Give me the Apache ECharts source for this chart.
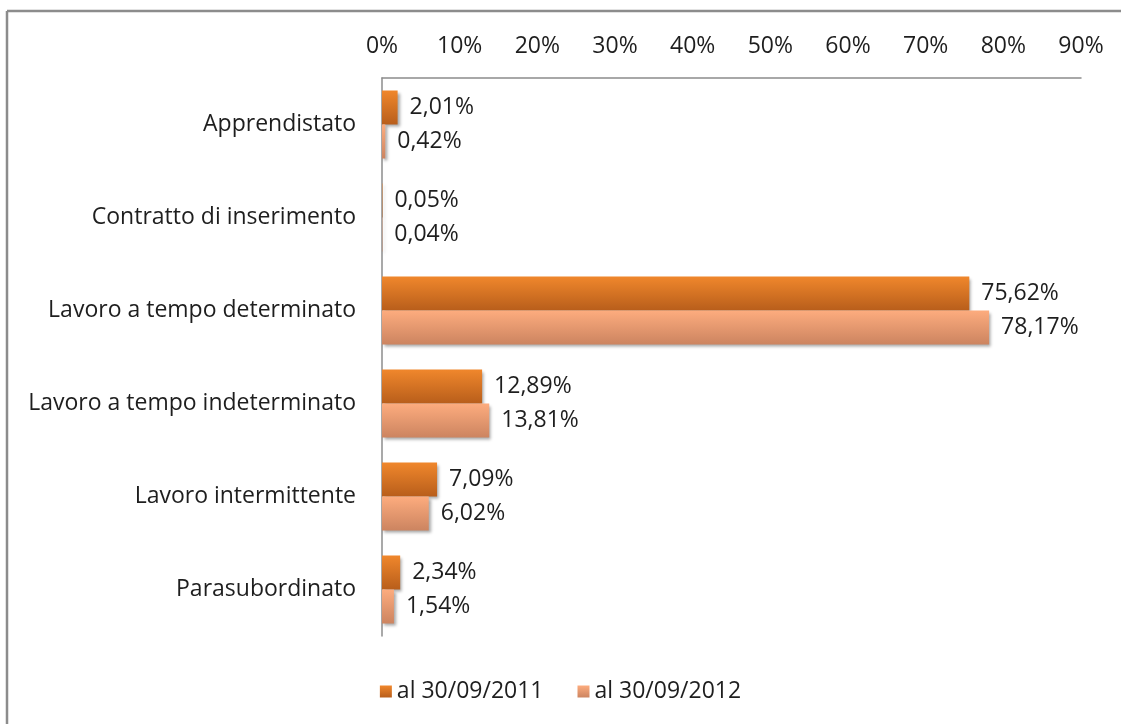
<!DOCTYPE html>
<html>
<head>
<meta charset="utf-8">
<script src="https://cdn.jsdelivr.net/npm/echarts@6/dist/echarts.min.js"></script>
<style>
html,body{margin:0;padding:0;background:#fff;}
#chart{width:1121px;height:724px;}
</style>
</head>
<body>
<div id="chart"></div>
<script>
const categories = ['Apprendistato','Contratto di inserimento','Lavoro a tempo determinato','Lavoro a tempo indeterminato','Lavoro intermittente','Parasubordinato'];
const seriesNames = ['al 30/09/2011','al 30/09/2012'];
const values2011 = [2.01, 0.05, 75.62, 12.89, 7.09, 2.34];
const values2012 = [0.42, 0.04, 78.17, 13.81, 6.02, 1.54];
const xTicks = [0,10,20,30,40,50,60,70,80,90];

const FONT = 'Open Sans';
const FS = 23;
const TXT = '#1e1e1e';
const fmt = v => v.toFixed(2).replace('.', ',') + '%';

function grad(top, bottom){
  return new echarts.graphic.LinearGradient(0,0,0,1,[{offset:0,color:top},{offset:1,color:bottom}]);
}

const chart = echarts.init(document.getElementById('chart'), null, {renderer:'canvas'});
chart.setOption({
  backgroundColor:'#fff',
  animation:false,
  textStyle:{fontFamily:FONT},
  graphic:[
    {type:'line', shape:{x1:7,y1:11,x2:7,y2:724}, style:{stroke:'#8c8c8c',lineWidth:2.5}},
    {type:'line', shape:{x1:7,y1:11,x2:1121,y2:11}, style:{stroke:'#8c8c8c',lineWidth:2.5}}
  ],
  grid:{left:382,right:40,top:78,bottom:88,containLabel:false},
  legend:{
    bottom:16,left:'center',
    itemWidth:12,itemHeight:12,itemGap:34,
    icon:'rect',
    textStyle:{fontFamily:FONT,fontSize:FS,color:TXT},
    data:seriesNames
  },
  xAxis:{
    type:'value',position:'top',min:xTicks[0],max:xTicks[xTicks.length-1],interval:10,
    axisLine:{show:true,lineStyle:{color:'#8c8c8c',width:1.5}},
    axisTick:{show:false},
    splitLine:{show:false},
    axisLabel:{formatter:'{value}%',fontFamily:FONT,fontSize:FS,color:TXT,margin:20}
  },
  yAxis:{
    type:'category',inverse:true,data:categories,
    axisLine:{show:true,lineStyle:{color:'#8c8c8c',width:1.5}},
    axisTick:{show:false},
    axisLabel:{fontFamily:FONT,fontSize:FS,color:TXT,margin:26}
  },
  series:[
    {
      name:seriesNames[0],type:'bar',data:values2011,barWidth:34,barGap:'0%',
      itemStyle:{color:grad('#f0872c','#b85e1b'),shadowColor:'rgba(0,0,0,0.35)',shadowBlur:3,shadowOffsetX:2,shadowOffsetY:2},
      label:{show:true,position:'right',distance:12,formatter:p=>fmt(p.value),fontFamily:FONT,fontSize:FS,color:TXT}
    },
    {
      name:seriesNames[1],type:'bar',data:values2012,barWidth:34,
      itemStyle:{color:grad('#fdac7e','#cc8460'),shadowColor:'rgba(0,0,0,0.35)',shadowBlur:3,shadowOffsetX:2,shadowOffsetY:2},
      label:{show:true,position:'right',distance:12,formatter:p=>fmt(p.value),fontFamily:FONT,fontSize:FS,color:TXT}
    }
  ]
});
</script>
</body>
</html>
